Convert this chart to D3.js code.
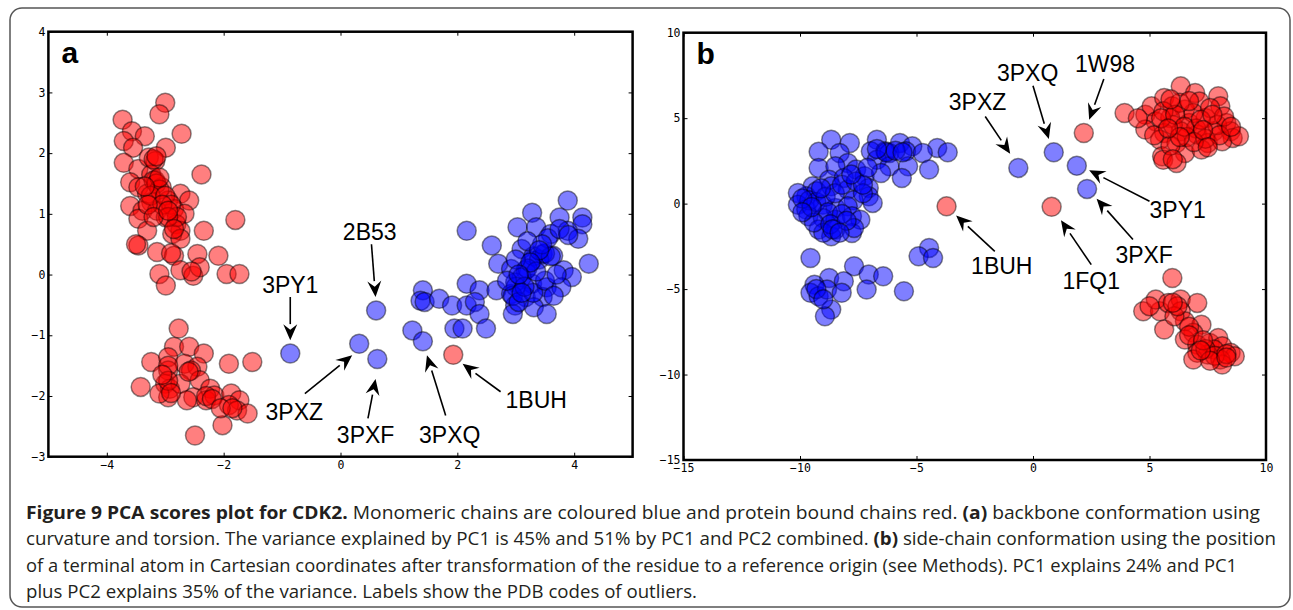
<!DOCTYPE html>
<html>
<head>
<meta charset="utf-8">
<script src="https://cdn.jsdelivr.net/npm/d3@7"></script>
<style>
  body { margin: 0; background: #fff; }
  .tick text { font-family: "DejaVu Sans Mono", monospace; font-size: 11.5px; fill: #000; }
  .tick line { stroke: #000; stroke-width: 1; }
</style>
</head>
<body>
<svg id="fig" width="1293" height="610"></svg>
<script>
// ---- data ----
// panel a: backbone conformation PCA scores
const aBlue = [
  [3.89,1.22],[3.28,1.02],[3.75,0.94],[4.14,0.94],[4.14,0.83],[3.03,0.78],[3.35,0.78],[3.6,0.67],
  [3.89,0.72],[4.07,0.59],[2.16,0.72],[2.59,0.48],[3.1,0.42],[3.46,0.34],[3.64,0.31],[3.28,0.23],
  [4.25,0.18],[2.7,0.18],[2.92,0.09],[3.17,0.07],[3.82,0.07],[3.96,-0.04],[2.16,-0.15],[2.99,-0.13],
  [3.28,-0.15],[3.53,-0.21],[3.78,-0.21],[2.38,-0.26],[2.67,-0.26],[2.92,-0.32],[3.17,-0.37],[3.46,-0.37],
  [1.41,-0.26],[1.37,-0.43],[1.44,-0.45],[1.69,-0.4],[1.91,-0.51],[2.16,-0.51],[2.3,-0.45],[2.38,-0.65],
  [2.99,-0.51],[3.31,-0.54],[3.53,-0.65],[2.95,-0.65],[1.95,-0.89],[2.09,-0.89],[2.49,-0.89],[1.23,-0.92],
  // dense core
  [3.3,0.3],[3.4,0.25],[3.5,0.35],[3.6,0.3],[3.2,0.1],[3.1,-0.05],[3.0,-0.2],[2.95,-0.35],[3.05,-0.45],
  [3.3,-0.3],[3.5,-0.1],[3.7,0.0],[3.55,0.6],[3.75,0.75],[3.9,0.65],[3.45,0.5],[3.2,0.55],[3.0,0.25],
  [2.85,-0.1],[3.65,-0.35],[3.35,0.05],[3.15,-0.2],[3.4,0.4],[3.25,0.2],[3.05,0.0],[3.1,-0.3],
  // outliers
  [1.41,-1.1],[0.61,-0.59],[0.32,-1.14],[0.63,-1.39],[-0.86,-1.3]
];
const aRed = [
  [-3.0,2.83],[-3.1,2.64],[-3.73,2.55],[-3.57,2.36],[-3.35,2.28],[-2.72,2.32],[-3.71,2.2],[-3.55,2.09],
  [-2.99,2.09],[-3.71,1.84],[-3.46,1.74],[-3.28,1.93],[-3.17,1.87],[-3.24,1.65],[-2.38,1.65],[-3.6,1.52],
  [-3.17,1.55],[-3.46,1.44],[-3.06,1.44],[-3.31,1.33],[-2.74,1.33],[-2.59,1.22],[-3.6,1.13],[-3.24,1.19],
  [-2.95,1.22],[-3.39,1.05],[-3.14,1.05],[-2.85,1.08],[-2.67,1.0],[-3.46,0.92],[-2.99,0.94],[-2.81,0.83],
  [-1.8,0.9],[-3.31,0.72],[-2.74,0.72],[-2.34,0.72],[-2.88,0.67],[-2.74,0.59],[-3.46,0.48],[-3.14,0.37],
  [-2.85,0.31],[-2.45,0.34],[-2.09,0.31],[-3.1,0.01],[-2.99,-0.18],[-2.74,0.07],[-2.52,-0.02],[-2.41,0.12],
  [-1.95,0.01],[-1.73,0.01],
  [-3.2,1.55],[-3.15,1.5],[-3.1,1.4],[-3.25,1.3],[-3.0,1.3],[-2.9,1.15],[-3.05,1.15],[-3.3,1.15],
  [-2.8,0.95],[-2.95,0.95],[-3.2,0.95],[-2.85,0.75],[-3.1,1.6],[-3.2,1.9],[-3.15,1.95],[-3.5,0.5],
  [-2.9,0.35],[-2.55,0.05],[-3.35,1.45],[-2.95,1.05],
  [-2.77,-0.89],[-2.85,-1.19],[-2.59,-1.19],[-2.34,-1.3],[-3.24,-1.44],[-2.95,-1.36],[-2.67,-1.47],
  [-2.45,-1.52],[-1.91,-1.47],[-1.51,-1.44],[-2.95,-1.58],[-2.56,-1.58],[-3.42,-1.85],[-3.0,-1.8],
  [-2.92,-1.88],[-2.41,-1.74],[-2.23,-1.88],[-2.95,-2.02],[-2.52,-2.02],[-2.3,-2.07],[-2.16,-1.99],
  [-1.87,-1.96],[-1.73,-2.07],[-1.91,-2.15],[-1.77,-2.24],[-1.59,-2.29],[-2.02,-2.48],[-2.49,-2.65],
  [-3.1,-1.96],[-2.74,-1.8],[-2.63,-2.07],
  [-2.95,-1.5],[-2.95,-1.75],[-2.9,-1.95],[-2.6,-1.6],[-2.3,-2.0],[-2.2,-2.05],[-2.05,-2.2],[-1.85,-2.2],
  [-3.05,-1.65],
  [1.93,-1.32]
];
// label text position, arrow start, arrow tip
const aLabels = [
  {code: "3PY1", at: [-0.86,-0.18], from: [-0.86,-0.37], to: [-0.86,-1.08]},
  {code: "2B53", at: [0.5,0.7], from: [0.53,0.5], to: [0.6,-0.37]},
  {code: "3PXZ", at: [-0.79,-2.26], from: [-0.61,-1.96], to: [0.2,-1.33]},
  {code: "3PXF", at: [0.43,-2.65], from: [0.47,-2.37], to: [0.6,-1.72]},
  {code: "3PXQ", at: [1.87,-2.65], from: [1.8,-2.32], to: [1.48,-1.33]},
  {code: "1BUH", at: [3.35,-2.07], from: [2.74,-1.93], to: [2.09,-1.47]}
];

// panel b: side-chain conformation PCA scores
const bBlue = [
  [-8.66,3.74],[-7.86,3.55],[-6.7,3.74],[-5.71,3.55],[-5.18,3.35],[-4.11,3.26],[-3.66,3.0],[-9.2,3.04],
  [-8.3,2.96],[-6.96,3.06],[-6.34,3.06],[-6.16,2.96],[-5.45,3.06],[-4.73,2.96],[-7.95,2.38],[-9.2,2.09],
  [-8.48,2.18],[-7.59,1.99],[-6.7,2.57],[-6.16,2.18],[-5.36,2.18],[-4.46,1.99],[-8.75,1.4],[-8.12,1.5],
  [-7.23,1.6],[-6.52,1.79],[-5.63,1.5],[-9.46,1.01],[-9.73,0.43],[-10.09,0.62],[-9.29,0.72],[-8.66,1.01],
  [-7.95,0.82],[-7.05,0.92],[-7.05,0.43],[-7.7,0.2],[-10.09,-0.06],[-9.73,-0.35],[-9.02,-0.06],[-8.48,-0.25],
  [-7.95,-0.16],[-6.88,0.04],[-9.64,-0.74],[-9.02,-0.84],[-8.48,-0.94],[-7.77,-0.74],[-7.41,-0.94],
  [-8.48,-1.52],[-9.2,-1.52],[-8.66,-1.91],[-7.77,-1.72],[-9.0,-1.7],[-7.68,-1.42],
  [-9.6,0.2],[-9.3,0.1],[-8.9,0.4],[-8.5,0.6],[-8.2,1.1],[-7.6,1.3],[-7.3,0.6],[-8.8,-0.5],[-8.2,-0.6],
  [-9.4,-1.1],[-8.7,-1.2],[-8.0,-1.0],[-6.3,3.0],[-5.9,3.1],[-6.7,3.2],[-5.6,3.0],[-7.3,1.1],
  [-9.9,0.3],[-9.5,-0.2],[-9.1,0.9],[-8.6,-1.5],[-8.3,-1.7],[-7.8,1.7],[-7.1,2.1],[-9.9,-0.5],
  [-9.55,-3.18],[-4.46,-2.59],[-4.91,-3.08],[-4.29,-3.18],[-7.68,-3.66],[-7.05,-4.15],[-6.43,-4.25],
  [-8.75,-4.35],[-8.12,-4.54],[-9.38,-4.74],[-9.55,-5.22],[-9.2,-5.42],[-8.84,-5.03],[-8.21,-5.22],
  [-7.14,-5.03],[-5.54,-5.13],[-8.66,-6.2],[-8.93,-6.59],[-9.3,-5.0],[-9.0,-5.6],
  [-0.63,2.09],[0.89,3.0],[1.88,2.22],[2.32,0.86]
];
const bRed = [
  [3.93,5.3],[4.82,5.2],[5.09,5.69],[5.63,6.18],[6.34,6.86],[6.96,6.47],[7.95,6.28],[7.14,5.98],
  [8.04,5.69],[5.98,5.69],[6.52,5.5],[5.27,4.81],[5.89,5.01],[6.7,4.72],[7.41,5.01],[8.3,4.72],
  [4.82,4.33],[5.63,4.13],[6.34,4.23],[7.05,4.04],[7.77,4.23],[8.48,4.23],[8.57,3.84],[5.45,3.74],
  [6.16,3.55],[7.5,3.55],[8.12,3.65],[8.84,3.94],[6.52,2.96],[7.23,3.16],[5.54,2.77],[5.59,2.57],
  [6.16,2.38],[5.2,4.0],[6.88,5.3],[7.6,5.6],[6.0,4.6],[7.0,4.4],[7.9,4.6],[6.6,3.9],[5.9,3.4],
  [7.4,3.8],[8.2,5.1],[6.3,5.9],[5.6,5.4],[4.5,5.0],
  [5.5,5.0],[6.1,5.2],[6.5,4.5],[7.2,4.9],[7.7,5.2],[8.0,4.0],[6.9,3.6],[6.3,3.9],[5.8,4.4],
  [7.3,4.3],[8.5,4.5],[6.7,6.0],[5.9,6.1],[7.5,3.3],[6.0,2.6],
  [5.98,-4.35],[4.73,-6.3],[5.45,-6.3],[5.27,-5.61],[5.8,-5.81],[6.34,-5.61],[7.05,-5.81],[6.34,-6.3],
  [6.52,-6.88],[5.63,-7.37],[7.23,-7.08],[6.88,-7.56],[6.52,-7.95],[7.05,-8.25],[7.59,-8.15],[7.95,-7.86],
  [8.12,-8.34],[8.48,-8.73],[8.66,-8.93],[7.77,-8.54],[7.5,-8.83],[7.05,-8.73],[8.04,-9.12],[8.12,-9.41],
  [6.88,-9.12],[6.07,-6.59],[5.0,-6.0],[7.4,-8.5],[7.8,-8.9],[8.3,-8.8],[6.7,-7.2],
  [6.2,-6.0],[6.7,-7.7],[7.3,-8.0],[7.6,-9.2],[8.3,-9.0],[7.2,-8.6],[6.0,-5.8],
  [2.18,4.13],[-3.71,-0.16],[0.8,-0.19]
];
const bLabels = [
  {code: "1W98", at: [3.09,8.17], from: [3.04,7.29], to: [2.41,4.91]},
  {code: "3PXQ", at: [-0.23,7.64], from: [0.0,6.9], to: [0.68,3.78]},
  {code: "3PXZ", at: [-2.38,5.93], from: [-2.05,5.1], to: [-0.98,2.92]},
  {code: "3PY1", at: [6.21,-0.35], from: [5.0,0.14], to: [2.41,1.95]},
  {code: "3PXF", at: [4.77,-2.98], from: [4.29,-2.1], to: [2.73,0.29]},
  {code: "1BUH", at: [-1.34,-3.66], from: [-1.64,-2.79], to: [-3.3,-0.7]},
  {code: "1FQ1", at: [2.5,-4.54], from: [2.5,-3.57], to: [1.2,-0.97]}
];

const aXTicks = [-4, -2, 0, 2, 4];
const aYTicks = [-3, -2, -1, 0, 1, 2, 3, 4];
const bXTicks = [-15, -10, -5, 0, 5, 10];
const bYTicks = [-15, -10, -5, 0, 5, 10];

const captionLines = [
  [["Figure 9 PCA scores plot for CDK2.", true], [" Monomeric chains are coloured blue and protein bound chains red. ", false], ["(a)", true], [" backbone conformation using", false]],
  [["curvature and torsion. The variance explained by PC1 is 45% and 51% by PC1 and PC2 combined. ", false], ["(b)", true], [" side-chain conformation using the position", false]],
  [["of a terminal atom in Cartesian coordinates after transformation of the residue to a reference origin (see Methods). PC1 explains 24% and PC1", false]],
  [["plus PC2 explains 35% of the variance. Labels show the PDB codes of outliers.", false]]
];
const captionWidths = [1234, 1250, 1211, 671];

// ---- drawing ----
const svg = d3.select("#fig");

svg.append("rect")
  .attr("x", 10).attr("y", 8).attr("width", 1280).attr("height", 599)
  .attr("rx", 12).attr("fill", "none").attr("stroke", "#555").attr("stroke-width", 1.5);

const fmt = d => d < 0 ? "\u2212" + Math.abs(d) : String(d);

function panel(cfg) {
  const x = d3.scaleLinear().domain(cfg.xDomain).range([cfg.left, cfg.right]);
  const y = d3.scaleLinear().domain(cfg.yDomain).range([cfg.bottom, cfg.top]);
  const g = svg.append("g");

  const dots = (data, col) => g.append("g").selectAll("circle").data(data).join("circle")
    .attr("cx", d => x(d[0])).attr("cy", d => y(d[1])).attr("r", 9.5)
    .attr("fill", col).attr("fill-opacity", 0.5)
    .attr("stroke", "#000").attr("stroke-opacity", 0.45).attr("stroke-width", 1.5);
  dots(cfg.blue, "#0000ff");
  dots(cfg.red, "#ff0000");

  // axes with inward ticks on all four sides
  const ax = (gen, tx, ty, vals, labels) => {
    const a = g.append("g").attr("transform", `translate(${tx},${ty})`)
      .call(gen.tickValues(vals).tickSize(-4).tickPadding(labels ? 4 : 0)
        .tickFormat(labels ? fmt : ""));
    a.select(".domain").remove();
    return a;
  };
  ax(d3.axisBottom(x), 0, cfg.bottom, cfg.xTicks, true);
  ax(d3.axisTop(x), 0, cfg.top, cfg.xTicks, false);
  ax(d3.axisLeft(y), cfg.left, 0, cfg.yTicks, true).selectAll("text").attr("x", -3);
  ax(d3.axisRight(y), cfg.right, 0, cfg.yTicks, false);

  g.append("rect")
    .attr("x", cfg.left).attr("y", cfg.top)
    .attr("width", cfg.right - cfg.left).attr("height", cfg.bottom - cfg.top)
    .attr("fill", "none").attr("stroke", "#000").attr("stroke-width", 2.5);

  g.append("text").attr("x", cfg.left + 13).attr("y", cfg.top + 31)
    .attr("font-family", "Liberation Sans, Arial, sans-serif").attr("font-weight", "bold")
    .attr("font-size", 30).text(cfg.tag);

  // outlier labels with arrows
  cfg.labels.forEach(l => {
    const x1 = x(l.from[0]), y1 = y(l.from[1]), x2 = x(l.to[0]), y2 = y(l.to[1]);
    const ang = Math.atan2(y2 - y1, x2 - x1);
    const hl = 16, hw = 7;
    const bx = x2 - hl * Math.cos(ang), by = y2 - hl * Math.sin(ang);
    g.append("line").attr("x1", x1).attr("y1", y1).attr("x2", bx).attr("y2", by)
      .attr("stroke", "#000").attr("stroke-width", 1.6);
    const px = -Math.sin(ang) * hw, py = Math.cos(ang) * hw;
    g.append("path")
      .attr("d", `M${x2},${y2}L${bx + px},${by + py}L${bx + 0.35 * hl * Math.cos(ang)},${by + 0.35 * hl * Math.sin(ang)}L${bx - px},${by - py}Z`)
      .attr("fill", "#000");
    g.append("text").attr("x", x(l.at[0])).attr("y", y(l.at[1]))
      .attr("text-anchor", "middle").attr("dominant-baseline", "central")
      .attr("font-family", "Liberation Sans, Arial, sans-serif").attr("font-size", 23)
      .text(l.code);
  });
}

panel({tag: "a", left: 48.4, right: 632.6, top: 31.7, bottom: 456.7,
  xDomain: [-5, 5], yDomain: [-3, 4], xTicks: aXTicks, yTicks: aYTicks,
  blue: aBlue, red: aRed, labels: aLabels});
panel({tag: "b", left: 683.5, right: 1266, top: 32.7, bottom: 460,
  xDomain: [-15, 10], yDomain: [-15, 10], xTicks: bXTicks, yTicks: bYTicks,
  blue: bBlue, red: bRed, labels: bLabels});

// caption
const cap = svg.append("g").attr("font-family", "Open Sans, sans-serif")
  .attr("font-size", 18.5).attr("fill", "#231f20");
captionLines.forEach((parts, i) => {
  const t = cap.append("text").attr("x", 26).attr("y", 519 + i * 26.4)
    .attr("textLength", captionWidths[i]).attr("lengthAdjust", "spacingAndGlyphs");
  parts.forEach(p => t.append("tspan").attr("font-weight", p[1] ? "bold" : null).text(p[0]));
});
</script>
</body>
</html>
